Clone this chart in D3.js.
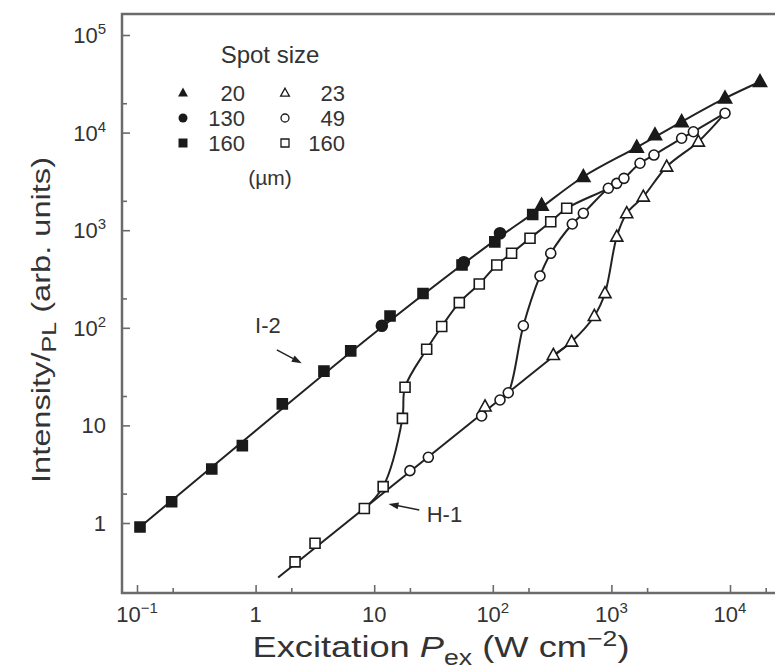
<!DOCTYPE html>
<html>
<head>
<meta charset="utf-8">
<script src="https://cdn.jsdelivr.net/npm/d3@7"></script>
<style>
  body { margin: 0; background: #fff; }
  text { font-family: "Liberation Sans", Arial, sans-serif; fill: #333; }
</style>
</head>
<body>
<svg id="chart" width="775" height="671"></svg>
<script>
// ---- tick values / labels ----
const xTicksMajor = [0.1, 1, 10, 100, 1000, 10000];
const xTickLabels = [["10", "\u22121"], ["1", ""], ["10", ""], ["10", "2"], ["10", "3"], ["10", "4"]];
const xTicksMinor = [0.2, 2, 20, 200, 2000, 20000];
const yTicksMajor = [1, 10, 100, 1000, 10000, 100000];
const yTickLabels = [["1", ""], ["10", ""], ["10", "2"], ["10", "3"], ["10", "4"], ["10", "5"]];
const yTicksMinor = [2, 20, 200, 2000, 20000];

// ---- markers, [P_ex, intensity] ----
const filledTri20 = [[258, 1800], [580, 3530], [1635, 7070], [2330, 9450], [3910, 12900], [9080, 22500], [17900, 33200]];
const filledCircle130 = [[11.6, 105], [57, 470], [115, 930]];
const filledSquare160 = [[0.106, 0.91], [0.196, 1.65], [0.427, 3.57], [0.773, 6.2], [1.68, 16.6], [3.77, 36], [6.34, 58],
  [13.6, 132], [25.8, 225], [55, 440], [104, 760], [217, 1450]];
const openTri23 = [[86, 15.6], [324, 52.6], [462, 72], [718, 132], [883, 226], [1110, 858], [1346, 1490], [1858, 2205],
  [2925, 4475], [5410, 8070]];
const openCircle49 = [[20, 3.44], [28.6, 4.71], [80.5, 12.5], [115, 18.2], [135, 21.6], [181, 105], [250, 340], [308, 580],
  [468, 1158], [580, 1490], [942, 2690], [1110, 3020], [1276, 3400], [1742, 4850], [2285, 5890], [3910, 8750],
  [4910, 10200], [9080, 15800]];
const openSquare160 = [[2.15, 0.40], [3.17, 0.62], [8.26, 1.41], [11.9, 2.36], [17.3, 11.8], [18.2, 24.6], [27.7, 60.2],
  [37.1, 103], [52.2, 181], [76.9, 281], [108, 440], [144, 580], [206, 826], [308, 1222], [420, 1676]];

// ---- fitted curves ----
const lineI2 = [[0.106, 0.91], [1, 8.8], [10, 88], [100, 760], [230, 1550], [580, 3530], [1635, 7070], [3910, 12900],
  [9080, 22500], [17900, 33200]];
const lineH1 = [[1.55, 0.277], [462, 72]];
const curve23 = [[324, 52.6], [462, 72], [718, 132], [883, 226], [1110, 858], [1346, 1490], [1858, 2205], [2925, 4475],
  [5410, 8070], [9080, 15800]];
const curve49 = [[115, 18.2], [135, 21.6], [181, 105], [250, 340], [308, 580], [468, 1158], [580, 1490], [942, 2690],
  [1110, 3020], [1276, 3400], [1742, 4850], [2285, 5890], [3910, 8750], [4910, 10200], [9080, 15800]];
const curve160 = [[8.26, 1.41], [11.9, 2.36], [17.3, 11.8], [18.2, 24.6], [27.7, 60.2], [37.1, 103], [52.2, 181],
  [76.9, 281], [108, 440], [144, 580], [206, 826], [308, 1222], [420, 1676], [942, 2690], [1276, 3400]];

// ---- annotations (data coords) ----
const labelI2 = { text: "I-2", at: [1.27, 88.5], from: [1.51, 59.3], to: [2.45, 43.3] };
const labelH1 = { text: "H-1", at: [27.7, 1.03], from: [24.0, 1.36], to: [13.2, 1.57] };

const legendLeft = [["tri", "20"], ["circle", "130"], ["square", "160"]];
const legendRight = [["tri", "23"], ["circle", "49"], ["square", "160"]];

const svg = d3.select("#chart");
const frame = { left: 122, right: 775, top: 14, bottom: 593 };

const x = d3.scaleLog().domain([0.1, 10000]).range([137, 730]);
const y = d3.scaleLog().domain([1, 100000]).range([523, 35]);

const axisColor = "#6b6b6b";

// ticks (inward)
function ticks(axis, vals, size, tr) {
    const g = svg.append("g").attr("transform", tr)
        .call(axis.tickValues(vals).tickSize(-size).tickFormat(""));
    g.select(".domain").remove();
    g.selectAll("line").attr("stroke", axisColor).attr("stroke-width", 1.6);
}
ticks(d3.axisBottom(x), xTicksMajor, 8, `translate(0,${frame.bottom})`);
ticks(d3.axisBottom(x), xTicksMinor, 5, `translate(0,${frame.bottom})`);
ticks(d3.axisLeft(y), yTicksMajor, 8, `translate(${frame.left},0)`);
ticks(d3.axisLeft(y), yTicksMinor, 5, `translate(${frame.left},0)`);

// frame lines
svg.append("path")
    .attr("d", `M${frame.right},${frame.top}H${frame.left}V${frame.bottom}H${frame.right}`)
    .attr("fill", "none").attr("stroke", axisColor).attr("stroke-width", 2.5);

// tick labels
xTicksMajor.forEach((v, i) => {
    const t = svg.append("text")
        .attr("x", x(v)).attr("y", 622)
        .attr("text-anchor", "middle").style("font-size", "22px");
    t.append("tspan").text(xTickLabels[i][0]);
    if (xTickLabels[i][1]) t.append("tspan").attr("dy", -9).style("font-size", "15px").text(xTickLabels[i][1]);
});
yTicksMajor.forEach((v, i) => {
    const t = svg.append("text")
        .attr("x", 106).attr("y", y(v) + 8)
        .attr("text-anchor", "end").style("font-size", "22px");
    t.append("tspan").text(yTickLabels[i][0]);
    if (yTickLabels[i][1]) t.append("tspan").attr("dy", -9).style("font-size", "15px").text(yTickLabels[i][1]);
});

// axis titles
const xt = svg.append("text").attr("x", 441).attr("y", 657).attr("text-anchor", "middle")
    .style("font-size", "30px").attr("textLength", 377).attr("lengthAdjust", "spacingAndGlyphs");
xt.append("tspan").text("Excitation ");
xt.append("tspan").style("font-style", "italic").text("P");
xt.append("tspan").attr("dy", 8).style("font-size", "22px").text("ex");
xt.append("tspan").attr("dy", -8).text(" (W cm");
xt.append("tspan").attr("dy", -11).style("font-size", "22px").text("\u22122");
xt.append("tspan").attr("dy", 11).text(")");

const yt = svg.append("text").attr("transform", "translate(50,320) rotate(-90)").attr("text-anchor", "middle")
    .style("font-size", "26px").attr("textLength", 326).attr("lengthAdjust", "spacingAndGlyphs");
yt.append("tspan").text("Intensity/");
yt.append("tspan").attr("dy", 6).style("font-size", "20px").text("PL");
yt.append("tspan").attr("dy", -6).text(" (arb. units)");

// curves
const line = d3.line().x(d => x(d[0])).y(d => y(d[1])).curve(d3.curveCatmullRom.alpha(0.5));
[lineI2, lineH1, curve23, curve49, curve160].forEach(c => {
    svg.append("path").datum(c).attr("d", line)
        .attr("fill", "none").attr("stroke", "#222").attr("stroke-width", 2);
});

// markers
function shape(kind, s) {
    if (kind === "square") return `M${-s / 2},${-s / 2}h${s}v${s}h${-s}Z`;
    if (kind === "tri") return `M0,${-s * 0.6}L${s * 0.55},${s * 0.4}L${-s * 0.55},${s * 0.4}Z`;
    const r = s / 2;
    return `M${r},0A${r},${r} 0 1,1 ${-r},0A${r},${r} 0 1,1 ${r},0Z`;
}
function markers(data, kind, filled, s) {
    svg.append("g").selectAll("path").data(data).enter().append("path")
        .attr("transform", d => `translate(${x(d[0])},${y(d[1])})`)
        .attr("d", shape(kind, s))
        .attr("fill", filled ? "#1a1a1a" : "#fff")
        .attr("stroke", "#1a1a1a").attr("stroke-width", 1.6);
}
markers(openSquare160, "square", false, 10);
markers(openCircle49, "circle", false, 10);
markers(openTri23, "tri", false, 11);
markers(filledSquare160, "square", true, 10);
markers(filledCircle130, "circle", true, 11);
markers(filledTri20, "tri", true, 12);

// annotations
[labelI2, labelH1].forEach((a, i) => {
    svg.append("text").attr("x", x(a.at[0])).attr("y", y(a.at[1]))
        .attr("text-anchor", i === 0 ? "middle" : "start").style("font-size", "22px").text(a.text);
    const x1 = x(a.from[0]), y1 = y(a.from[1]), x2 = x(a.to[0]), y2 = y(a.to[1]);
    const ang = Math.atan2(y2 - y1, x2 - x1);
    svg.append("line").attr("x1", x1).attr("y1", y1)
        .attr("x2", x2 - 6 * Math.cos(ang)).attr("y2", y2 - 6 * Math.sin(ang))
        .attr("stroke", "#222").attr("stroke-width", 1.5);
    const h = 10, w = 3.5;
    const bx = x2 - h * Math.cos(ang), by = y2 - h * Math.sin(ang);
    svg.append("path")
        .attr("d", `M${x2},${y2}L${bx - w * Math.sin(ang)},${by + w * Math.cos(ang)}L${bx + w * Math.sin(ang)},${by - w * Math.cos(ang)}Z`)
        .attr("fill", "#222");
});

// legend
svg.append("text").attr("x", 270).attr("y", 63).attr("text-anchor", "middle").style("font-size", "24px").text("Spot size");
const rowY = [93, 118, 143];
legendLeft.forEach((d, i) => {
    svg.append("path").attr("transform", `translate(183,${rowY[i]})`).attr("d", shape(d[0], 9)).attr("fill", "#1a1a1a");
    svg.append("text").attr("x", 245).attr("y", rowY[i] + 8).attr("text-anchor", "end").style("font-size", "22px").text(d[1]);
});
legendRight.forEach((d, i) => {
    svg.append("path").attr("transform", `translate(285,${rowY[i]})`).attr("d", shape(d[0], 8))
        .attr("fill", "#fff").attr("stroke", "#1a1a1a").attr("stroke-width", 1.3);
    svg.append("text").attr("x", 345).attr("y", rowY[i] + 8).attr("text-anchor", "end").style("font-size", "22px").text(d[1]);
});
svg.append("text").attr("x", 270).attr("y", 185).attr("text-anchor", "middle").style("font-size", "21px").text("(\u00b5m)");
</script>
</body>
</html>
